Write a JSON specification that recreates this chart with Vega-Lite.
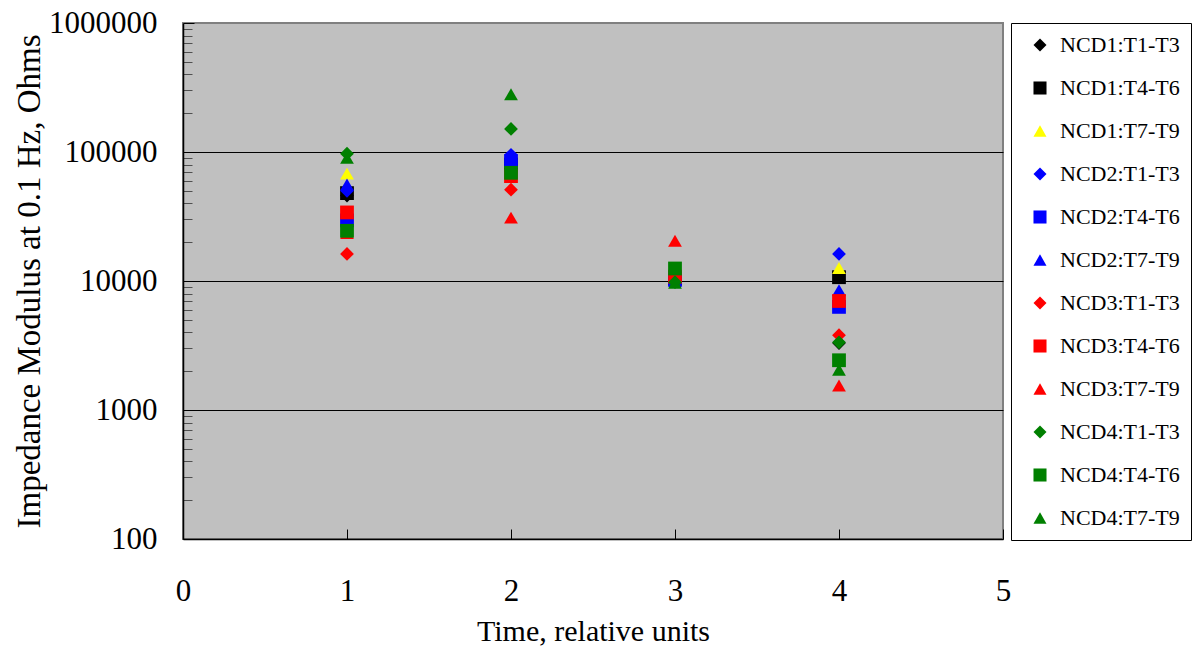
{
  "$schema": "https://vega.github.io/schema/vega-lite/v6.json",
  "width": 820,
  "height": 516,
  "autosize": "none",
  "padding": {"left": 183, "top": 23, "right": 192, "bottom": 108},
  "background": "white",
  "config": {
    "font": "Liberation Serif",
    "view": {"fill": "#c0c0c0", "stroke": "#808080", "strokeWidth": 2},
    "legend": {"labelFont": "Liberation Serif"}
  },
  "data": {
    "values": [
      {"series": "NCD1:T1-T3", "x": 1, "value": 46000},
      {"series": "NCD1:T1-T3", "x": 2, "value": 70000},
      {"series": "NCD1:T1-T3", "x": 3, "value": 10000},
      {"series": "NCD1:T1-T3", "x": 4, "value": 3300},
      {"series": "NCD1:T4-T6", "x": 1, "value": 48000},
      {"series": "NCD1:T4-T6", "x": 2, "value": 80000},
      {"series": "NCD1:T4-T6", "x": 3, "value": 10500},
      {"series": "NCD1:T4-T6", "x": 4, "value": 10700},
      {"series": "NCD1:T7-T9", "x": 1, "value": 68000},
      {"series": "NCD1:T7-T9", "x": 2, "value": 75000},
      {"series": "NCD1:T7-T9", "x": 3, "value": 10200},
      {"series": "NCD1:T7-T9", "x": 4, "value": 12600},
      {"series": "NCD2:T1-T3", "x": 1, "value": 50000},
      {"series": "NCD2:T1-T3", "x": 2, "value": 95000},
      {"series": "NCD2:T1-T3", "x": 3, "value": 10000},
      {"series": "NCD2:T1-T3", "x": 4, "value": 16200},
      {"series": "NCD2:T4-T6", "x": 1, "value": 29500},
      {"series": "NCD2:T4-T6", "x": 2, "value": 85000},
      {"series": "NCD2:T4-T6", "x": 3, "value": 10300},
      {"series": "NCD2:T4-T6", "x": 4, "value": 6300},
      {"series": "NCD2:T7-T9", "x": 1, "value": 56000},
      {"series": "NCD2:T7-T9", "x": 2, "value": 90000},
      {"series": "NCD2:T7-T9", "x": 3, "value": 10000},
      {"series": "NCD2:T7-T9", "x": 4, "value": 8500},
      {"series": "NCD3:T1-T3", "x": 1, "value": 16200},
      {"series": "NCD3:T1-T3", "x": 2, "value": 51000},
      {"series": "NCD3:T1-T3", "x": 3, "value": 10000},
      {"series": "NCD3:T1-T3", "x": 4, "value": 3800},
      {"series": "NCD3:T4-T6", "x": 1, "value": 34000},
      {"series": "NCD3:T4-T6", "x": 2, "value": 65000},
      {"series": "NCD3:T4-T6", "x": 3, "value": 10800},
      {"series": "NCD3:T4-T6", "x": 4, "value": 7000},
      {"series": "NCD3:T7-T9", "x": 1, "value": 23500},
      {"series": "NCD3:T7-T9", "x": 2, "value": 31000},
      {"series": "NCD3:T7-T9", "x": 3, "value": 20500},
      {"series": "NCD3:T7-T9", "x": 4, "value": 1550},
      {"series": "NCD4:T1-T3", "x": 1, "value": 97000},
      {"series": "NCD4:T1-T3", "x": 2, "value": 151000},
      {"series": "NCD4:T1-T3", "x": 3, "value": 9800},
      {"series": "NCD4:T1-T3", "x": 4, "value": 3350},
      {"series": "NCD4:T4-T6", "x": 1, "value": 24500},
      {"series": "NCD4:T4-T6", "x": 2, "value": 69000},
      {"series": "NCD4:T4-T6", "x": 3, "value": 12500},
      {"series": "NCD4:T4-T6", "x": 4, "value": 2430},
      {"series": "NCD4:T7-T9", "x": 1, "value": 90000},
      {"series": "NCD4:T7-T9", "x": 2, "value": 280000},
      {"series": "NCD4:T7-T9", "x": 3, "value": 9700},
      {"series": "NCD4:T7-T9", "x": 4, "value": 2050}
    ]
  },
  "encoding": {
    "x": {
      "field": "x",
      "type": "quantitative",
      "scale": {"domain": [0, 5], "nice": false, "zero": false},
      "axis": {
        "values": [0, 1, 2, 3, 4, 5],
        "format": "d",
        "grid": false,
        "domainColor": "black",
        "domainWidth": 1.5,
        "tickColor": "black",
        "tickSize": -10,
        "labelFontSize": 31,
        "labelColor": "black",
        "labelPadding": 47,
        "labelFlush": false,
        "labelOverlap": false,
        "title": "Time, relative units",
        "titleFontSize": 30,
        "titleFontWeight": "normal",
        "titleColor": "black",
        "titlePadding": 10
      }
    }
  },
  "layer": [
    {
      "mark": {"type": "point", "opacity": 0},
      "encoding": {
        "y": {
          "field": "value",
          "type": "quantitative",
          "scale": {"type": "log", "domain": [100, 1000000], "nice": false},
          "axis": {
            "orient": "left",
            "values": [1000, 10000, 100000],
            "grid": true,
            "gridColor": "black",
            "gridWidth": 1,
            "gridOpacity": 1,
            "ticks": false,
            "labels": false,
            "domain": false,
            "title": null
          }
        }
      }
    },
    {
      "mark": {"type": "point", "opacity": 0},
      "encoding": {
        "y": {
          "field": "value",
          "type": "quantitative",
          "axis": {
            "orient": "left",
            "values": [200, 300, 400, 500, 600, 700, 800, 900, 2000, 3000, 4000, 5000, 6000, 7000, 8000, 9000, 20000, 30000, 40000, 50000, 60000, 70000, 80000, 90000, 200000, 300000, 400000, 500000, 600000, 700000, 800000, 900000],
            "grid": false,
            "ticks": true,
            "tickSize": -9,
            "tickColor": "#505050",
            "tickWidth": 1,
            "labels": false,
            "domain": false,
            "title": null
          }
        }
      }
    },
    {
      "mark": {"type": "point", "filled": true, "opacity": 1, "size": 190},
      "encoding": {
        "y": {
          "field": "value",
          "type": "quantitative",
          "axis": {
            "orient": "left",
            "values": [100, 1000, 10000, 100000, 1000000],
            "format": "d",
            "grid": false,
            "domainColor": "black",
            "domainWidth": 1.5,
            "tickColor": "black",
            "tickSize": -11,
            "labelFontSize": 31,
            "labelColor": "black",
            "labelPadding": 37,
            "labelFlush": false,
            "labelOverlap": false,
            "title": "Impedance Modulus at 0.1 Hz, Ohms",
            "titleFontSize": 33,
            "titleFontWeight": "normal",
            "titleColor": "black",
            "titlePadding": 2
          }
        },
        "color": {
          "field": "series",
          "type": "nominal",
          "scale": {
            "domain": ["NCD1:T1-T3", "NCD1:T4-T6", "NCD1:T7-T9", "NCD2:T1-T3", "NCD2:T4-T6", "NCD2:T7-T9", "NCD3:T1-T3", "NCD3:T4-T6", "NCD3:T7-T9", "NCD4:T1-T3", "NCD4:T4-T6", "NCD4:T7-T9"],
            "range": ["#000000", "#000000", "#ffff00", "#0000ff", "#0000ff", "#0000ff", "#ff0000", "#ff0000", "#ff0000", "#008000", "#008000", "#008000"]
          },
          "legend": {
            "title": null,
            "orient": "right",
            "offset": 8,
            "padding": 11,
            "strokeColor": "black",
            "fillColor": "white",
            "labelFontSize": 22,
            "labelColor": "black",
            "labelFont": "Liberation Serif",
            "labelOffset": 9,
            "symbolOffset": 7,
            "symbolSize": 170,
            "symbolStrokeWidth": 0,
            "rowPadding": 21,
            "labelLimit": 300
          }
        },
        "shape": {
          "field": "series",
          "type": "nominal",
          "scale": {
            "domain": ["NCD1:T1-T3", "NCD1:T4-T6", "NCD1:T7-T9", "NCD2:T1-T3", "NCD2:T4-T6", "NCD2:T7-T9", "NCD3:T1-T3", "NCD3:T4-T6", "NCD3:T7-T9", "NCD4:T1-T3", "NCD4:T4-T6", "NCD4:T7-T9"],
            "range": ["diamond", "square", "triangle-up", "diamond", "square", "triangle-up", "diamond", "square", "triangle-up", "diamond", "square", "triangle-up"]
          }
        }
      }
    }
  ],
  "resolve": {"axis": {"y": "independent"}}
}
